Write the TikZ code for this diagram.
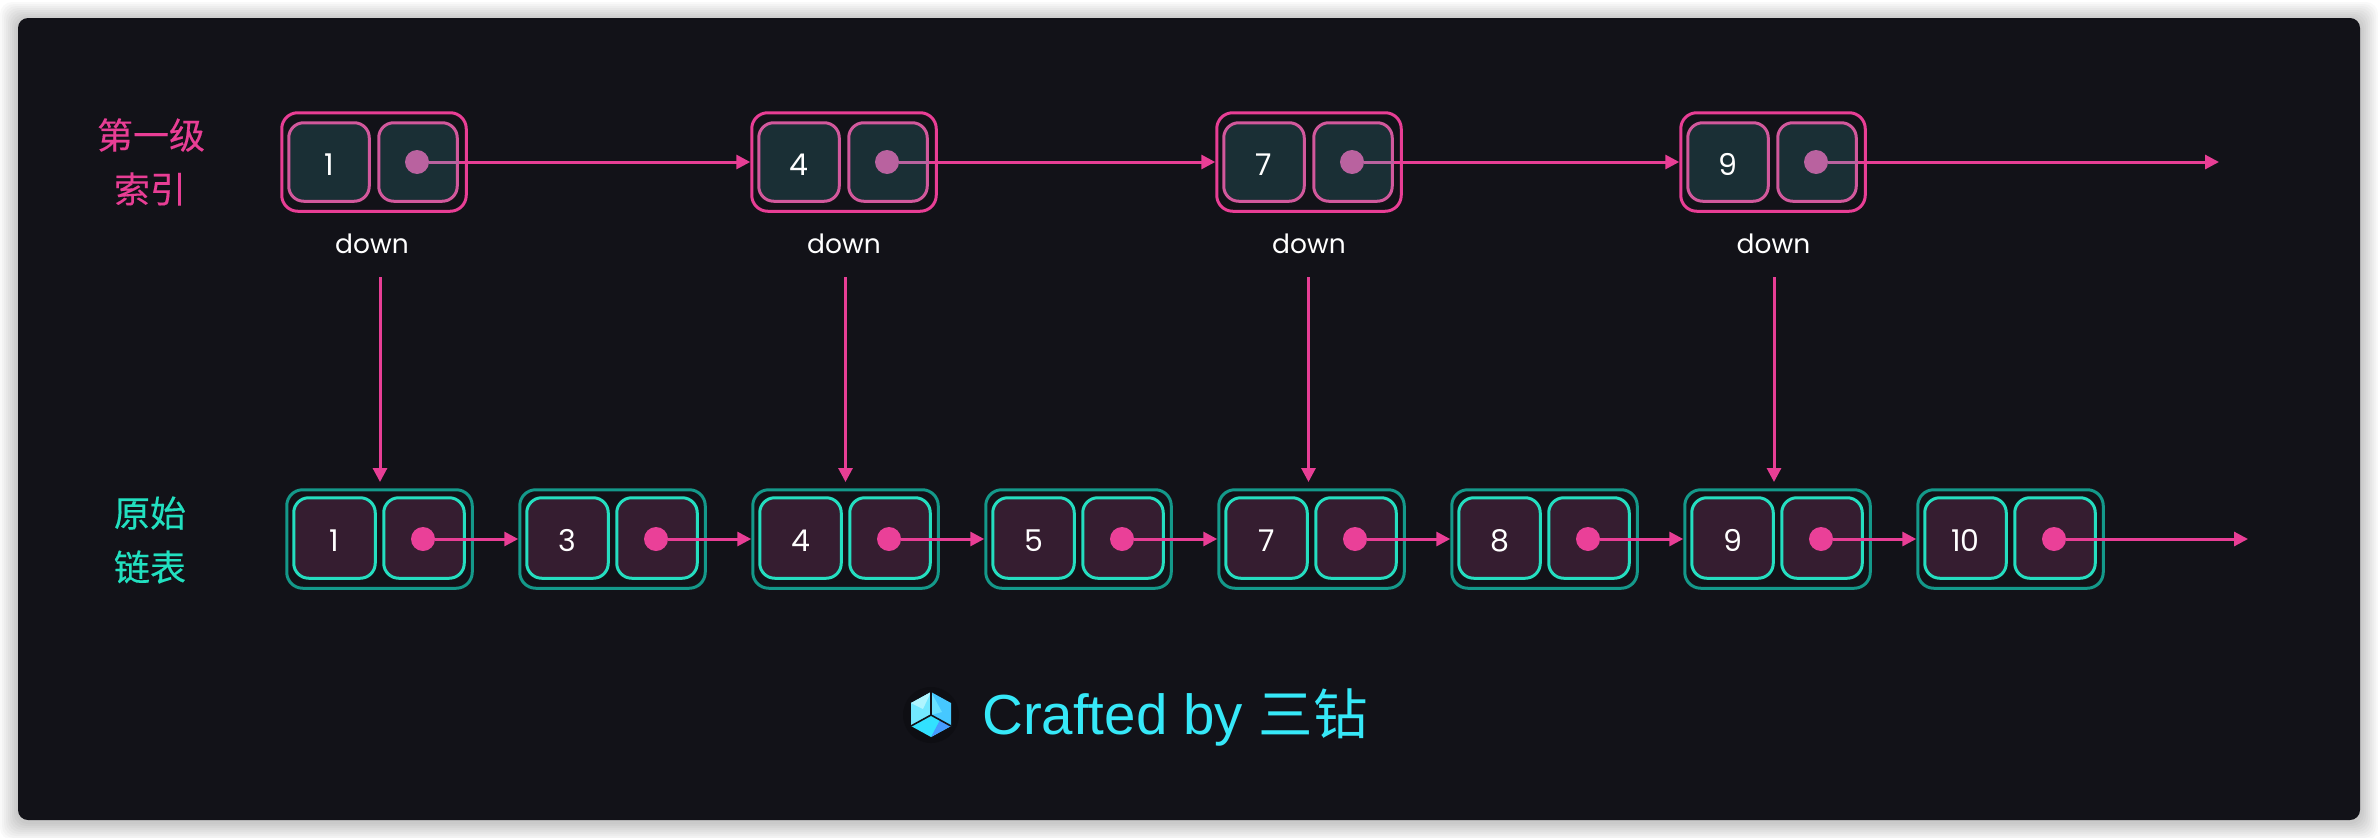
\documentclass[tikz,border=0pt]{standalone}
\usepackage{fontspec}
\setmainfont{Poppins}
\newfontfamily\cjk{Noto Sans CJK SC}
\newfontfamily\cjkside[FakeBold=0.3]{Noto Sans CJK SC}
\newfontfamily\craft{Liberation Sans}
\usetikzlibrary{arrows.meta}
\definecolor{cardbg}{HTML}{121218}
\definecolor{pinkline}{HTML}{E83E95}
\definecolor{pinksoft}{HTML}{D2589C}
\definecolor{pinkdot}{HTML}{B9629F}
\definecolor{tealin}{HTML}{25DEC0}
\definecolor{tealout}{HTML}{14998A}
\definecolor{tealtxt}{HTML}{22E0C0}
\definecolor{idxfill}{HTML}{1A2F35}
\definecolor{basefill}{HTML}{351D30}
\definecolor{hotdot}{HTML}{EA4098}
\definecolor{crafttxt}{HTML}{36E8F8}
\definecolor{logoa}{HTML}{73E8FF}
\definecolor{logob}{HTML}{AFF5FF}
\definecolor{logoc}{HTML}{46C8FF}
\definecolor{logod}{HTML}{69E1FF}
\definecolor{logoe}{HTML}{32E1FF}
\definecolor{logof}{HTML}{469BFF}
\definecolor{logoring}{HTML}{0E0E13}
\tikzset{
  x=1pt,y=-1pt,
  outerbox/.style={draw,line width=3pt,rounded corners=16pt,minimum height=98.5pt,inner sep=0pt},
  idxouter/.style={outerbox,draw=pinkline,minimum width=184.5pt},
  baseouter/.style={outerbox,draw=tealout,minimum width=185.5pt},
  cell/.style={line width=3pt,rounded corners=15pt,inner sep=0pt},
  idxcell/.style={cell,draw=pinksoft,fill=idxfill,minimum height=78.5pt},
  basecell/.style={cell,draw=tealin,fill=basefill,minimum height=80.5pt},
  ptrdot/.style={circle,minimum size=24pt,inner sep=0pt,outer sep=0pt},
  digit/.style={anchor=base,text=white,inner sep=0pt,font=\fontsize{30}{30}\selectfont},
  downlbl/.style={anchor=base,text=white,inner sep=0pt,font=\fontsize{26.5}{27}\selectfont},
  sidelbl/.style={inner sep=0pt,font=\cjkside\fontsize{36}{36}\selectfont},
  link/.style={draw=pinkline,line width=3pt,-{Triangle[length=14pt,width=14pt]}},
}
\begin{document}
\begin{tikzpicture}
\useasboundingbox (0,0) rectangle (2378,838);
\fill[white] (0,0) rectangle (2378,838);
% soft shadow
\foreach \s in {18,16,...,2}{
  \fill[black,opacity=0.022,rounded corners=12pt] (18-\s,18-\s+2) rectangle (2360+\s,820+\s+2);
}
\fill[cardbg,rounded corners=10pt] (18,18) rectangle (2360,820);

% side labels
\node[sidelbl,text=pinkline] (l1) at (151,135) {第一级};
\node[sidelbl,text=pinkline] (l2) at (150,189) {索引};
\node[sidelbl,text=tealtxt] (l3) at (150,513) {原始};
\node[sidelbl,text=tealtxt] (l4) at (150,567) {链表};

% end points of the free connector ends
\coordinate (idxend) at (2219,162);
\coordinate (baseend) at (2248,539);

% base list
\foreach \n/\x/\t in {1/286/1,2/519/3,3/752/4,4/985/5,5/1218/7,6/1451/8,7/1684/9,8/1917/10}{
  \node[baseouter] (bo\n) at (\x+93.5,539) {};
  \node[basecell,minimum width=81.5pt] (ba\n) at (\x+48.5,538) {};
  \node[basecell,minimum width=80.5pt] (bb\n) at (\x+138,538) {};
  \node[ptrdot,fill=hotdot] (bd\n) at (\x+137,539) {};
  \node[digit] (bt\n) at (\x+48.5,551.5) {\t};
}
\foreach \a/\b in {1/2,2/3,3/4,4/5,5/6,6/7,7/8}{
  \draw[link] (bd\a.east) -- (bd\a.east -| bo\b.west);
}
\draw[link] (bd8.east) -- (baseend);

% index list
\foreach \n/\x/\t/\dx/\ax in {1/281/1/372/380,2/751/4/844/845.5,3/1216/7/1309/1308.5,4/1680/9/1773.5/1774}{
  \node[idxouter] (io\n) at (\x+93,162) {};
  \node[idxcell,minimum width=80.5pt] (ia\n) at (\x+48,162) {};
  \node[idxcell,minimum width=78.5pt] (ib\n) at (\x+137,162) {};
  \node[ptrdot,fill=pinkdot] (id\n) at (\x+136,162) {};
  \node[digit] (it\n) at (\x+48,175.5) {\t};
  \node[downlbl] (dn\n) at (\dx,253) {down};
  \coordinate (ds\n) at (\ax,277);
  \coordinate (de\n) at (\ax,482);
  \draw[link] (ds\n) -- (de\n);
}
\foreach \a/\b in {1/2,2/3,3/4}{
  \draw[link] (id\a.east) -- (id\a.east -| io\b.west);
  \draw[pinkdot,line width=3pt] (id\a.east) -- (id\a.east -| ib\a.east);
}
\draw[link] (id4.east) -- (idxend);
\draw[pinkdot,line width=3pt] (id4.east) -- (id4.east -| ib4.east);

% logo
\fill[logoring] (931,715) circle (28);
\begin{scope}[shift={(931,715)}]
  \fill[logoa] (0,-23) -- (-20,-12) -- (-20,11) -- (0,0) -- cycle;
  \fill[logob] (0,-23) -- (-20,-12) -- (-8,-6) -- cycle;
  \fill[logoc] (0,-23) -- (20,-12) -- (20,11) -- (0,0) -- cycle;
  \fill[logod] (0,-23) -- (0,0) -- (11,-3) -- cycle;
  \fill[logoe] (0,0) -- (-20,11) -- (0,22) -- (20,11) -- cycle;
  \fill[logof] (20,11) -- (0,22) -- (9,5) -- cycle;
  \draw[cardbg,line width=1.6pt] (0,-23) -- (0,0) -- (-20,11) (0,0) -- (20,11);
\end{scope}

% credit
\node[anchor=base west,inner sep=0pt,text=crafttxt,font=\craft\fontsize{56.5}{57}\selectfont] (credit) at (982,734) {Crafted by {\cjk\fontsize{54.5}{55}\selectfont 三钻}};
\end{tikzpicture}
\end{document}
